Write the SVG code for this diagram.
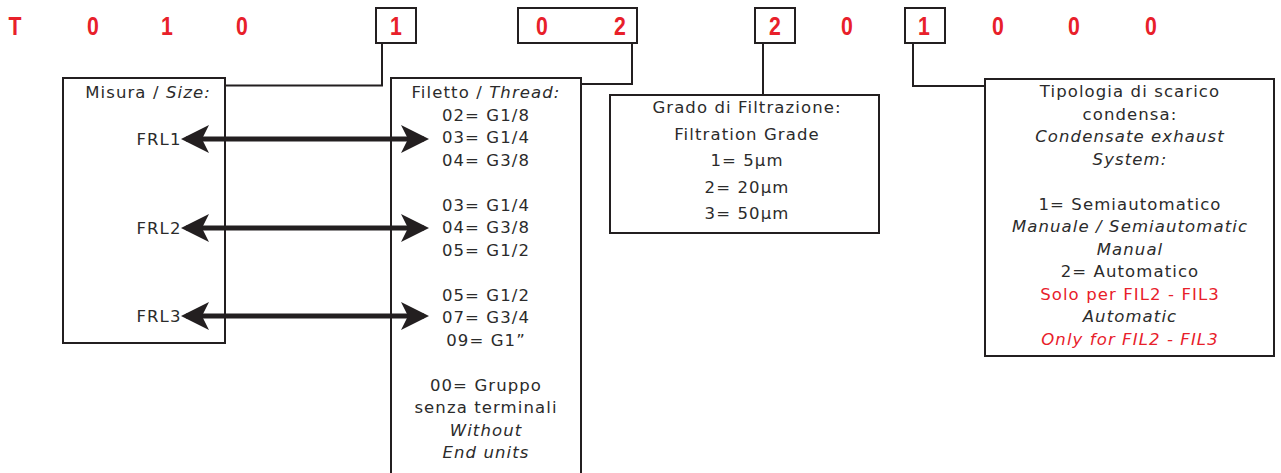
<svg xmlns="http://www.w3.org/2000/svg" width="1281" height="473" viewBox="0 0 1281 473">
<style>
.bg{fill:#ffffff}
.box{fill:#ffffff;stroke:#231f20;stroke-width:2}
.cbox{fill:#ffffff;stroke:#231f20;stroke-width:2}
.code{font-family:"Liberation Sans",Arial,sans-serif;font-weight:bold;font-size:25px;fill:#e8202a;text-anchor:middle}
.t{font-family:"DejaVu Sans","Liberation Sans",sans-serif;font-size:16.5px;letter-spacing:1.1px;fill:#2b2b2b;text-anchor:middle}
.i{font-style:italic}
.r{fill:#e8202a}
.conn{fill:none;stroke:#231f20;stroke-width:2}
.arr{fill:none;stroke:#231f20;stroke-width:5}
</style>
<defs>
<marker id="ah" markerUnits="userSpaceOnUse" markerWidth="28" markerHeight="28" viewBox="0 0 28 28" refX="23" refY="14" orient="auto-start-reverse">
<path d="M0,0 L28,14 L0,28 L7,14 Z" fill="#231f20"/>
</marker>
</defs>
<rect class="bg" x="0" y="0" width="1281" height="473"/>

<g id="code">
<rect class="cbox" x="376" y="8" width="40" height="35"/>
<rect class="cbox" x="518" y="8" width="119" height="35"/>
<rect class="cbox" x="755" y="8" width="40" height="35"/>
<rect class="cbox" x="905" y="8" width="40" height="35"/>
<text class="code" transform="translate(15,35) scale(0.85,1)">T</text>
<text class="code" transform="translate(93,35) scale(0.85,1)">0</text>
<text class="code" transform="translate(167,35) scale(0.85,1)">1</text>
<text class="code" transform="translate(242,35) scale(0.85,1)">0</text>
<text class="code" transform="translate(396,35) scale(0.85,1)">1</text>
<text class="code" transform="translate(542,35) scale(0.85,1)">0</text>
<text class="code" transform="translate(620,35) scale(0.85,1)">2</text>
<text class="code" transform="translate(775,35) scale(0.85,1)">2</text>
<text class="code" transform="translate(847,35) scale(0.85,1)">0</text>
<text class="code" transform="translate(924,35) scale(0.85,1)">1</text>
<text class="code" transform="translate(998,35) scale(0.85,1)">0</text>
<text class="code" transform="translate(1074,35) scale(0.85,1)">0</text>
<text class="code" transform="translate(1151,35) scale(0.85,1)">0</text>
</g>

<g id="connectors">
<polyline class="conn" points="382,43 382,85.5 225,85.5"/>
<polyline class="conn" points="632,43 632,84 581,84"/>
<polyline class="conn" points="763,43 763,95"/>
<polyline class="conn" points="913,43 913,86 985,86"/>
</g>

<g id="misura">
<rect class="box" x="63" y="78" width="162" height="265"/>
<text class="t" x="148" y="98">Misura / <tspan class="i">Size:</tspan></text>
<text class="t" x="159" y="145">FRL1</text>
<text class="t" x="159" y="234">FRL2</text>
<text class="t" x="159" y="322">FRL3</text>
</g>

<g id="filetto">
<rect class="box" x="391" y="78" width="190" height="400"/>
<text class="t" x="486" y="98">Filetto / <tspan class="i">Thread:</tspan></text>
<text class="t" x="486" y="120.5">02= G1/8</text>
<text class="t" x="486" y="143">03= G1/4</text>
<text class="t" x="486" y="165.5">04= G3/8</text>
<text class="t" x="486" y="210.5">03= G1/4</text>
<text class="t" x="486" y="233">04= G3/8</text>
<text class="t" x="486" y="255.5">05= G1/2</text>
<text class="t" x="486" y="300.5">05= G1/2</text>
<text class="t" x="486" y="323">07= G3/4</text>
<text class="t" x="486" y="345.5">09= G1”</text>
<text class="t" x="486" y="390.5">00= Gruppo</text>
<text class="t" x="486" y="413">senza terminali</text>
<text class="t i" x="486" y="435.5">Without</text>
<text class="t i" x="486" y="458">End units</text>
</g>

<g id="grado">
<rect class="box" x="610" y="95" width="269" height="138"/>
<text class="t" x="747" y="113">Grado di Filtrazione:</text>
<text class="t" x="747" y="139.5">Filtration Grade</text>
<text class="t" x="747" y="166">1= 5µm</text>
<text class="t" x="747" y="192.5">2= 20µm</text>
<text class="t" x="747" y="219">3= 50µm</text>
</g>

<g id="tipologia">
<rect class="box" x="985" y="79" width="289" height="277"/>
<text class="t" x="1130" y="97">Tipologia di scarico</text>
<text class="t" x="1130" y="119.5">condensa:</text>
<text class="t i" x="1130" y="142">Condensate exhaust</text>
<text class="t i" x="1130" y="164.5">System:</text>
<text class="t" x="1130" y="209.5">1= Semiautomatico</text>
<text class="t i" x="1130" y="232">Manuale / Semiautomatic</text>
<text class="t i" x="1130" y="254.5">Manual</text>
<text class="t" x="1130" y="277">2= Automatico</text>
<text class="t r" x="1130" y="299.5">Solo per FIL2 - FIL3</text>
<text class="t i" x="1130" y="322">Automatic</text>
<text class="t i r" x="1130" y="344.5">Only for FIL2 - FIL3</text>
</g>

<g id="arrows">
<line class="arr" x1="186" y1="139" x2="424" y2="139" marker-start="url(#ah)" marker-end="url(#ah)"/>
<line class="arr" x1="186" y1="228" x2="424" y2="228" marker-start="url(#ah)" marker-end="url(#ah)"/>
<line class="arr" x1="186" y1="316" x2="424" y2="316" marker-start="url(#ah)" marker-end="url(#ah)"/>
</g>
</svg>
